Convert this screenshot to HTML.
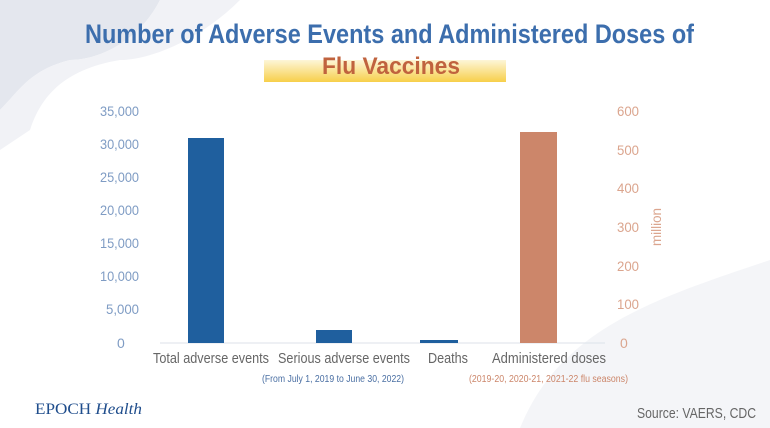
<!DOCTYPE html>
<html><head><meta charset="utf-8"><style>
body{margin:0;width:770px;height:428px;overflow:hidden;background:#fff;font-family:"Liberation Sans",sans-serif;position:relative}
.a{position:absolute;white-space:nowrap}
</style></head><body>
<svg class="a" style="left:0;top:0" width="770" height="428" font-family="Liberation Sans,sans-serif">
<path d="M0,0 L160,0 C140,40 100,60 70,60 C30,70 20,90 0,110 Z" fill="#e4e7ee"/>
<path d="M160,0 L240,0 C200,40 150,60 120,60 C60,70 40,100 30,130 L0,150 L0,110 C20,90 30,70 70,60 C100,60 140,40 160,0Z" fill="#f1f2f6"/>
<path d="M520,428 C560,330 650,300 770,260 L770,428 Z" fill="#f4f5f8"/>
<defs><linearGradient id="g" x1="0" y1="0" x2="0" y2="1"><stop offset="0" stop-color="#fdf6d8"/><stop offset="1" stop-color="#f7cf4a"/></linearGradient></defs>
<rect x="264" y="60" width="242" height="22" fill="url(#g)"/>
<line x1="160" y1="343" x2="605" y2="343" stroke="#dde2ea" stroke-width="1"/>
<rect x="188" y="138" width="36" height="205" fill="#1f5f9e"/>
<rect x="316" y="330" width="36" height="13" fill="#1f5f9e"/>
<rect x="420" y="340" width="38" height="3" fill="#1f5f9e"/>
<rect x="520" y="132" width="37" height="211" fill="#cc866a"/>
<g font-size="14" fill="#7f9cc4" lengthAdjust="spacingAndGlyphs">
<text x="100" y="116" textLength="39" lengthAdjust="spacingAndGlyphs">35,000</text>
<text x="100" y="149" textLength="39" lengthAdjust="spacingAndGlyphs">30,000</text>
<text x="100" y="182" textLength="39" lengthAdjust="spacingAndGlyphs">25,000</text>
<text x="100" y="215" textLength="39" lengthAdjust="spacingAndGlyphs">20,000</text>
<text x="100" y="248" textLength="39" lengthAdjust="spacingAndGlyphs">15,000</text>
<text x="100" y="281" textLength="39" lengthAdjust="spacingAndGlyphs">10,000</text>
<text x="106" y="314" textLength="33" lengthAdjust="spacingAndGlyphs">5,000</text>
<text x="117" y="348">0</text>
</g>
<g font-size="14" fill="#dba58e">
<text x="617" y="116" textLength="22" lengthAdjust="spacingAndGlyphs">600</text>
<text x="617" y="155" textLength="22" lengthAdjust="spacingAndGlyphs">500</text>
<text x="617" y="193" textLength="22" lengthAdjust="spacingAndGlyphs">400</text>
<text x="617" y="232" textLength="22" lengthAdjust="spacingAndGlyphs">300</text>
<text x="617" y="271" textLength="22" lengthAdjust="spacingAndGlyphs">200</text>
<text x="617" y="309" textLength="22" lengthAdjust="spacingAndGlyphs">100</text>
<text x="620" y="348">0</text>
<text transform="translate(661,246) rotate(-90)" font-size="14" textLength="38" lengthAdjust="spacingAndGlyphs">million</text>
</g>
<g font-size="15" fill="#666">
<text x="153" y="363" textLength="116" lengthAdjust="spacingAndGlyphs">Total adverse events</text>
<text x="278" y="363" textLength="132" lengthAdjust="spacingAndGlyphs">Serious adverse events</text>
<text x="428" y="363" textLength="40" lengthAdjust="spacingAndGlyphs">Deaths</text>
<text x="492" y="363" textLength="114" lengthAdjust="spacingAndGlyphs">Administered doses</text>
</g>
<text x="262" y="382" font-size="10" fill="#4a6fa3" textLength="142" lengthAdjust="spacingAndGlyphs">(From July 1, 2019 to June 30, 2022)</text>
<text x="469" y="382" font-size="10" fill="#cc866a" textLength="159" lengthAdjust="spacingAndGlyphs">(2019-20, 2020-21, 2021-22 flu seasons)</text>
<text x="85" y="43" font-size="27" font-weight="bold" fill="#3c6ead" textLength="609" lengthAdjust="spacingAndGlyphs">Number of Adverse Events and Administered Doses of</text>
<text x="322" y="74" font-size="24" font-weight="bold" fill="#c0633e" textLength="138" lengthAdjust="spacingAndGlyphs">Flu Vaccines</text>
<text x="35" y="414" font-size="16" fill="#1f4d8c" font-family="Liberation Serif,serif" textLength="107" lengthAdjust="spacingAndGlyphs">EPOCH <tspan font-style="italic">Health</tspan></text>
<text x="637" y="418" font-size="15" fill="#666" textLength="119" lengthAdjust="spacingAndGlyphs">Source: VAERS, CDC</text>
</svg>
</body></html>
